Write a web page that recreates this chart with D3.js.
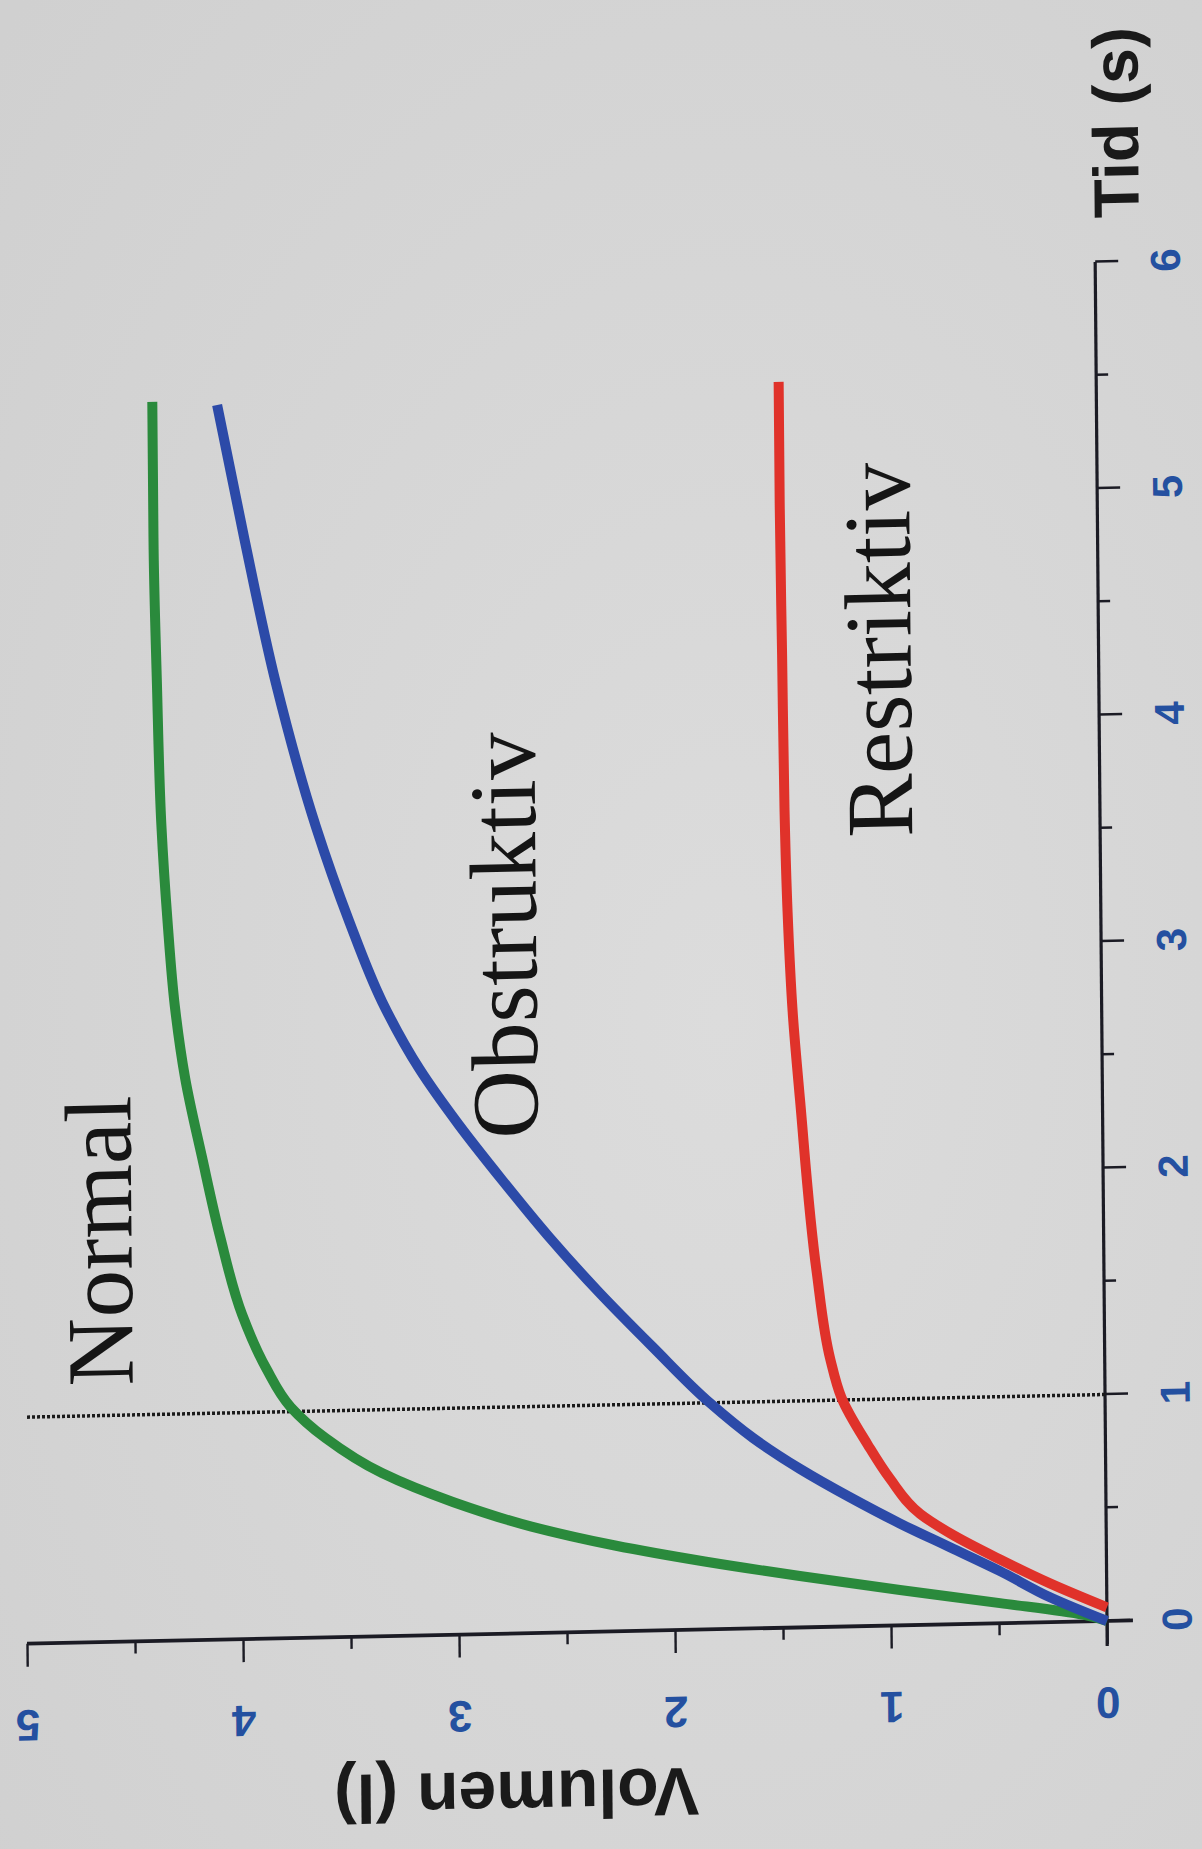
<!DOCTYPE html>
<html><head><meta charset="utf-8">
<script src="https://cdn.jsdelivr.net/npm/d3@7"></script>
<style>html,body{margin:0;padding:0;background:#d8d8d8;} svg{display:block;}</style>
</head><body>
<svg id="chart" width="1202" height="1849"></svg>
<script>
// ---- data ----
const timeTicks = [0, 1, 2, 3, 4, 5, 6];
const timeMinorTicks = [0.5, 1.5, 2.5, 3.5, 4.5, 5.5];
const volumeTicks = [0, 1, 2, 3, 4, 5];
const volumeMinorTicks = [0.5, 1.5, 2.5, 3.5, 4.5];

const normalTime   = [0, 0.03, 0.089, 0.156, 0.227, 0.30, 0.38, 0.47, 0.585, 0.72, 0.88, 1.02, 1.19, 1.43, 1.78, 2.13, 2.48, 2.8, 3.17, 3.6, 4.23, 4.87, 5.47];
const normalVolume = [0, 0.11, 0.495, 0.957, 1.42, 1.86, 2.28, 2.66, 3.02, 3.35, 3.61, 3.77, 3.88, 3.99, 4.09, 4.17, 4.245, 4.29, 4.32, 4.345, 4.36, 4.37, 4.37];

const obstrTime   = [0, 0.11, 0.23, 0.34, 0.45, 0.57, 0.70, 0.84, 1.0, 1.25, 1.5, 1.75, 2.0, 2.25, 2.5, 2.8, 3.16, 3.58, 4.22, 4.86, 5.45];
const obstrVolume = [0, 0.263, 0.493, 0.724, 0.955, 1.185, 1.415, 1.63, 1.83, 2.09, 2.34, 2.57, 2.78, 2.98, 3.16, 3.33, 3.48, 3.63, 3.81, 3.95, 4.07];

const restrTime   = [0.06, 0.17, 0.28, 0.40, 0.49, 0.65, 0.80, 1.01, 1.18, 1.57, 2.33, 2.71, 3.16, 3.61, 4.29, 4.96, 5.50];
const restrVolume = [0, 0.26, 0.49, 0.72, 0.86, 1.0, 1.10, 1.22, 1.27, 1.33, 1.40, 1.43, 1.45, 1.46, 1.465, 1.47, 1.47];

const seriesNames  = ["Normal", "Obstruktiv", "Restriktiv"];
const seriesColors = ["#2a8a3c", "#2c4aa8", "#e0322a"];
const labelTime    = [1.13, 2.185, 3.48];
const labelVolume  = [4.50, 2.615, 0.87];
const fev1Time = 1;
const xTitle = "Tid (s)";
const yTitle = "Volumen (l)";

// ---- drawing ----
const W = 1202, H = 1849;
const svg = d3.select('#chart');
const defs = svg.append('defs');
const grad = defs.append('radialGradient').attr('id', 'paper').attr('cx', '60%').attr('cy', '55%').attr('r', '80%');
grad.append('stop').attr('offset', '0%').attr('stop-color', '#dcdcdc');
grad.append('stop').attr('offset', '100%').attr('stop-color', '#d0d0d0');
svg.append('rect').attr('width', W).attr('height', H).attr('fill', 'url(#paper)');

const origin = [1107, 1621];
// chart drawn in a normal frame, then turned a quarter turn (slightly skewed, like the photo)
const g = svg.append('g')
  .attr('transform', `matrix(-0.0087,-1,1,-0.021,${origin[0]},${origin[1]})`);

const x = d3.scaleLinear().domain([0, 6]).range([0, 1359]);
const y = d3.scaleLinear().domain([0, 5]).range([0, -1080]);

const tickFont = "'Liberation Sans', Arial, sans-serif";
const tickColor = "#2450a0";
const axisColor = "#1b1b24";

// time axis (bottom in the local frame)
const xAxis = g.append('g').call(d3.axisBottom(x).tickValues(timeTicks).tickSize(23).tickFormat(d3.format('d')));
g.append('g').call(d3.axisBottom(x).tickValues(timeMinorTicks).tickSize(12).tickFormat(''))
  .call(a => a.select('.domain').remove());
xAxis.select('.domain').remove();
xAxis.selectAll('text').attr('y', 70).attr('dy', '0.35em')
  .style('font', `bold 42px ${tickFont}`).attr('fill', tickColor);

// volume axis (left in the local frame)
const yAxis = g.append('g').call(d3.axisLeft(y).tickValues(volumeTicks).tickSize(23).tickFormat(d3.format('d')));
g.append('g').call(d3.axisLeft(y).tickValues(volumeMinorTicks).tickSize(12).tickFormat(''))
  .call(a => a.select('.domain').remove());
yAxis.select('.domain').remove();
yAxis.selectAll('text').attr('x', 0).attr('y', 0).attr('dy', '0.35em')
  .attr('text-anchor', 'middle')
  .attr('transform', 'translate(-82,0) rotate(-90)')
  .style('font', `bold 44px ${tickFont}`).attr('fill', tickColor);

g.selectAll('.tick line').attr('stroke', axisColor).attr('stroke-width', 2.4);

// axis lines
g.append('line').attr('x1', x(-0.11)).attr('x2', x(6)).attr('y1', 0).attr('y2', 0)
  .attr('stroke', axisColor).attr('stroke-width', 3.2);
g.append('line').attr('x1', 0).attr('x2', 0).attr('y1', y(-0.12)).attr('y2', y(5))
  .attr('stroke', axisColor).attr('stroke-width', 3.8);

// dotted FEV1 line
g.append('line').attr('x1', x(fev1Time)).attr('x2', x(fev1Time)).attr('y1', y(0)).attr('y2', y(5))
  .attr('stroke', '#1a1a1a').attr('stroke-width', 3.5).attr('stroke-dasharray', '3,2');

// curves
const series = [
  normalTime.map((t, i) => ({t, v: normalVolume[i]})),
  obstrTime.map((t, i) => ({t, v: obstrVolume[i]})),
  restrTime.map((t, i) => ({t, v: restrVolume[i]}))
];
const line = d3.line().x(d => x(d.t)).y(d => y(d.v)).curve(d3.curveMonotoneX);
g.selectAll('path.curve').data(series).join('path').attr('class', 'curve')
  .attr('d', line).attr('fill', 'none')
  .attr('stroke', (d, i) => seriesColors[i]).attr('stroke-width', 10)
  .attr('stroke-linecap', 'butt').attr('stroke-linejoin', 'round');

// curve labels
g.selectAll('text.lab').data(seriesNames).join('text').attr('class', 'lab')
  .attr('x', (d, i) => x(labelTime[i])).attr('y', (d, i) => y(labelVolume[i]))
  .attr('text-anchor', 'start')
  .style('font', "95px 'Liberation Serif', 'Times New Roman', serif")
  .attr('fill', '#151515').text(d => d);

// axis titles
g.append('text').attr('x', x(6) + 139).attr('y', 44).attr('text-anchor', 'middle')
  .style('font', `bold 64px ${tickFont}`).attr('fill', '#1a1a1a').text(xTitle);
g.append('text').attr('transform', `translate(-162,${y(2.74)}) rotate(-90)`)
  .attr('text-anchor', 'middle').attr('dy', '0.35em')
  .style('font', `bold 68px ${tickFont}`).attr('fill', '#1a1a1a').text(yTitle);
</script>
</body></html>
